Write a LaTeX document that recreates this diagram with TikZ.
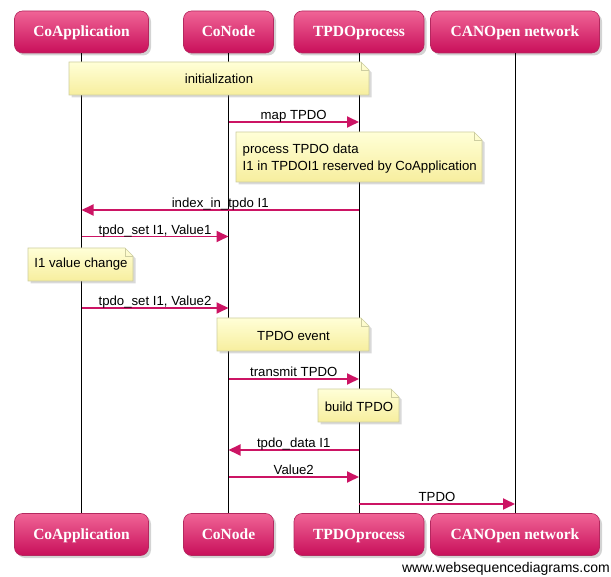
\documentclass[tikz,border=0pt]{standalone}
\usepackage{fontspec}
\setmainfont{Liberation Sans}
\newfontfamily\boxfont{Liberation Serif}
\usetikzlibrary{arrows.meta,shadows}
\definecolor{msgc}{RGB}{204,20,100}
\definecolor{boxtop}{RGB}{240,100,150}
\definecolor{boxbot}{RGB}{200,15,90}
\definecolor{boxedge}{RGB}{180,40,95}
\definecolor{notetop}{RGB}{255,255,215}
\definecolor{notebot}{RGB}{247,238,158}
\definecolor{noteedge}{RGB}{205,205,160}
\newcommand{\notebg}[4]{%
  \path[noteshape] (#1,#2) -- (#3-8,#2) -- (#3,#2+8) -- (#3,#4) -- (#1,#4) -- cycle;
  \draw[notefold] (#3-8,#2) -- (#3-8,#2+8) -- (#3,#2+8);
}
\begin{document}
\begin{tikzpicture}[x=1pt,y=-1pt,
  actor/.style={rounded corners=8pt, top color=boxtop, bottom color=boxbot,
    draw=boxedge, line width=0.6pt, text=white,
    font=\boxfont\bfseries\fontsize{15.5}{18}\selectfont,
    text height=12pt, text depth=2pt,
    minimum height=42pt, inner sep=0pt,
    drop shadow={shadow xshift=2.5pt,shadow yshift=-2.5pt,opacity=0.35}},
  life/.style={draw=black, line width=0.75pt},
  noteshape/.style={top color=notetop, bottom color=notebot, draw=noteedge, line width=0.6pt,
    drop shadow={shadow xshift=2.5pt,shadow yshift=-2.5pt,opacity=0.3}},
  notefold/.style={draw=noteedge, line width=0.6pt},
  notetext/.style={inner sep=0pt, font=\fontsize{13.2}{16.7}\selectfont},
  msg/.style={draw=msgc, line width=1.8pt, -{Triangle[length=12pt,width=11pt]}},
  lbl/.style={midway, anchor=base, yshift=2.2pt, inner sep=0pt, text=black, font=\fontsize{13.2}{16}\selectfont}
]
\useasboundingbox (0,0) rectangle (611,577);
% heads
\node[actor, minimum width=134pt] (a1) at (81.5,32) {CoApplication};
\node[actor, minimum width=90pt]  (a2) at (228.5,32) {CoNode};
\node[actor, minimum width=130pt] (a3) at (359,32) {TPDOprocess};
\node[actor, minimum width=169pt] (a4) at (515,32) {CANOpen network};
\node[actor, minimum width=134pt] (b1) at (81.5,534.5) {CoApplication};
\node[actor, minimum width=90pt]  (b2) at (228.5,534.5) {CoNode};
\node[actor, minimum width=130pt] (b3) at (359,534.5) {TPDOprocess};
\node[actor, minimum width=169pt] (b4) at (515,534.5) {CANOpen network};
% lifelines
\draw[life] (a1) -- (b1);
\draw[life] (a2) -- (b2);
\draw[life] (a3) -- (b3);
\draw[life] (a4) -- (b4);
% notes
\notebg{69}{62}{369}{95}
\node[notetext] (n1) at (219,78.5) {initialization};
\notebg{236}{132}{482}{182}
\node[notetext, align=left, anchor=west] (n2) at (242.5,158.3) {process TPDO data\\I1 in TPDOI1 reserved by CoApplication};
\notebg{28}{248}{133}{281}
\node[notetext] (n3) at (81,264.5) {I1 value change};
\notebg{217}{318}{369}{351}
\node[notetext] (n4) at (293.5,335.5) {TPDO event};
\notebg{318}{389}{399}{422}
\node[notetext] (n5) at (359,406.5) {build TPDO};
% message levels
\coordinate (y1) at (0,122);
\coordinate (y2) at (0,210);
\coordinate (y3) at (0,236.5);
\coordinate (y4) at (0,308);
\coordinate (y5) at (0,379);
\coordinate (y6) at (0,450);
\coordinate (y7) at (0,477);
\coordinate (y8) at (0,504);
\draw[msg] (a2 |- y1) -- node[lbl] {map TPDO} (a3 |- y1);
\draw[msg] (a3 |- y2) -- node[lbl] {index\_in\_tpdo I1} (a1 |- y2);
\draw[msg] (a1 |- y3) -- node[lbl] {tpdo\_set I1, Value1} (a2 |- y3);
\draw[msg] (a1 |- y4) -- node[lbl] {tpdo\_set I1, Value2} (a2 |- y4);
\draw[msg] (a2 |- y5) -- node[lbl] {transmit TPDO} (a3 |- y5);
\draw[msg] (a3 |- y6) -- node[lbl] {tpdo\_data I1} (a2 |- y6);
\draw[msg] (a2 |- y7) -- node[lbl] {Value2} (a3 |- y7);
\draw[msg] (a3 |- y8) -- node[lbl] {TPDO} (a4 |- y8);
% watermark
\node[anchor=east, inner sep=0pt, font=\fontsize{14}{16}\selectfont] (wm) at (610,569) {www.websequencediagrams.com};
\end{tikzpicture}
\end{document}
